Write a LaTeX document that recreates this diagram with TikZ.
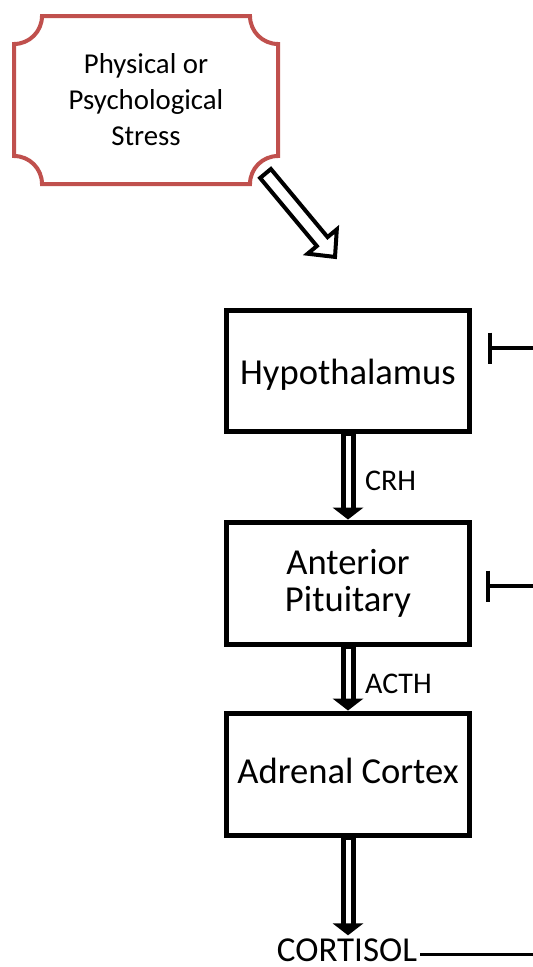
\documentclass[tikz,border=0pt]{standalone}
\usepackage{fontspec}
\setmainfont{Carlito}
\usetikzlibrary{calc}
\definecolor{stressred}{HTML}{C0504D}
\begin{document}
\begin{tikzpicture}[x=1pt,y=-1pt,
  box/.style={draw, line width=5pt, minimum width=243pt, inner sep=0pt, align=center,
    font=\fontsize{36.6pt}{37pt}\selectfont, fill=white},
  lbl/.style={inner sep=0pt, font=\fontsize{30pt}{36pt}\selectfont, anchor=base west},
  inh/.style={line width=4pt},
  shaftout/.style={line width=15pt, shorten >=11pt},
  shaftin/.style={white, line width=5pt, shorten >=11pt, shorten <=2.5pt},
]
\useasboundingbox (0,0) rectangle (533,967);
\fill[white] (0,0) rectangle (533,967);

% stress plaque
\draw[stressred, line width=4pt, fill=white]
  (42,16) -- (250,16) arc[start angle=180,end angle=270,radius=28pt]
  -- (278,156) arc[start angle=90,end angle=180,radius=28pt]
  -- (42,184) arc[start angle=0,end angle=90,radius=28pt]
  -- (14,44) arc[start angle=270,end angle=360,radius=28pt] -- cycle;
\node[font=\fontsize{28.8pt}{36pt}\selectfont, align=center, inner sep=0pt] (stress) at (146,100)
  {Physical or\\Psychological\\Stress};

% hollow arrow
\begin{scope}[shift={(265.5,173.5)}, rotate=-50.2]
\draw[line width=4pt, fill=white] (0,-7) -- (88.6,-7) -- (88.6,-19) -- (108.6,0)
  -- (88.6,19) -- (88.6,7) -- (0,7) -- cycle;
\end{scope}

% boxes
\node[box, minimum height=121pt, text height=27pt, text depth=0pt] (hyp) at (348,370.5) {Hypothalamus};
\node[box, minimum height=122pt] (pit) at (348,583) {Anterior\\Pituitary};
\node[box, minimum height=122pt, text height=18pt, text depth=0pt] (adr) at (348,774) {Adrenal Cortex};
\node[inner sep=0pt, outer sep=3pt, anchor=base, font=\fontsize{35pt}{40pt}\selectfont] (cort) at (347,961) {CORTISOL};

% labels
\node[lbl] (crh) at (365,490.5) {CRH};
\node[lbl] (acth) at (365,693) {ACTH};

% double arrows
\draw[shaftout] (hyp.south) -- (pit.north);
\draw[shaftin] (hyp.south) -- (pit.north);
\fill (pit.north) -- ++(-15.5,-12) -- ++(31,0) -- cycle;

\draw[shaftout] (pit.south) -- (adr.north);
\draw[shaftin] (pit.south) -- (adr.north);
\fill (adr.north) -- ++(-15.5,-12) -- ++(31,0) -- cycle;

\coordinate (ctop) at (adr.south |- cort.north);
\draw[shaftout] (adr.south) -- (ctop);
\draw[shaftin] (adr.south) -- (ctop);
\fill (ctop) -- ++(-15.5,-12) -- ++(31,0) -- cycle;

% feedback line
\coordinate (fbend) at (533,954);
\draw[line width=3pt] (cort.east |- fbend) -- (fbend);

% inhibition marks
\coordinate (i1) at (490,348);
\coordinate (i1r) at (533,348);
\draw[inh] (i1r) -- (i1) ++(0,-15.5) -- ++(0,31);
\coordinate (i2) at (488,586);
\coordinate (i2r) at (533,586);
\draw[inh] (i2r) -- (i2) ++(0,-15.5) -- ++(0,31);
\end{tikzpicture}
\end{document}
